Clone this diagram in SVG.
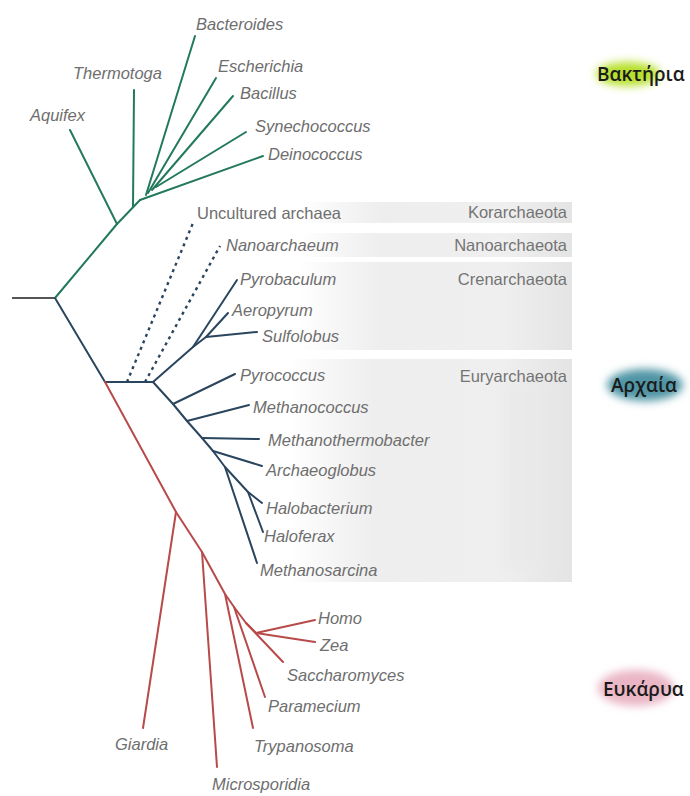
<svg xmlns="http://www.w3.org/2000/svg" width="690" height="796" viewBox="0 0 690 796">
<defs>
<linearGradient id="gbox" x1="0" y1="0" x2="1" y2="0">
<stop offset="0" stop-color="#e8e8e8" stop-opacity="0"/>
<stop offset="0.3" stop-color="#ececec" stop-opacity="0.9"/>
<stop offset="0.75" stop-color="#efefef"/>
<stop offset="1" stop-color="#e4e4e4"/>
</linearGradient>
<filter id="blur" x="-50%" y="-50%" width="200%" height="200%"><feGaussianBlur stdDeviation="4"/></filter>
<style>
.bac{stroke:#23795c;stroke-width:2;fill:none;stroke-linecap:round;stroke-linejoin:round}
.arc{stroke:#2a455e;stroke-width:2;fill:none;stroke-linecap:round;stroke-linejoin:round}
.euk{stroke:#b84a4a;stroke-width:2;fill:none;stroke-linecap:round;stroke-linejoin:round}
.dash{stroke-dasharray:3 4;stroke-width:2.4;stroke-linecap:butt}
.root{stroke:#555;stroke-width:2.2;fill:none}
.t{font-family:"Liberation Sans",Arial,sans-serif;font-size:16.5px;fill:#6e6e6e;font-style:italic}
.n{font-family:"Liberation Sans",Arial,sans-serif;font-size:16.5px;fill:#6e6e6e}
.ph{font-family:"Liberation Sans",Arial,sans-serif;font-size:16.5px;fill:#747474;text-anchor:end}
.dom{font-family:"Open Sans","Noto Sans",sans-serif;font-size:19px;font-weight:600;fill:#1b1b1b}
</style>
</defs>
<rect width="690" height="796" fill="#ffffff"/>

<g id="phyla-boxes">
<rect x="300" y="202" width="272" height="21" fill="url(#gbox)"/>
<rect x="300" y="233" width="272" height="24" fill="url(#gbox)"/>
<rect x="300" y="262" width="272" height="88" fill="url(#gbox)"/>
<rect x="290" y="359" width="282" height="223" fill="url(#gbox)"/>
<rect x="500" y="380" width="45" height="190" fill="#e9e9e9" opacity="0.5" filter="url(#blur)"/>
</g>

<g id="connectors">
<path class="root" d="M12,298 H55"/>
<path class="bac" d="M55,298 L117,224 L140,200"/>
<path class="bac" d="M117,224 L70,130"/>
<path class="bac" d="M133,207 L134,90"/>
<path class="bac" d="M146,195 L195,36"/>
<path class="bac" d="M148,193 L216,78"/>
<path class="bac" d="M152,190 L233,96"/>
<path class="bac" d="M156,187 L246,132"/>
<path class="bac" d="M140,200 L263,156"/>

<path class="arc" d="M55,298 L105,382 H153"/>
<path class="arc dash" d="M127,382 L193,223"/>
<path class="arc dash" d="M145,382 L220,246"/>
<path class="arc" d="M153,382 L193,347 L237,280"/>
<path class="arc" d="M193,347 L206,337 L228,313"/>
<path class="arc" d="M206,337 L257,332"/>
<path class="arc" d="M153,382 L173,404 L187,421 L202,438 L213,451 L225,467 L257,563"/>
<path class="arc" d="M173,404 L235,374"/>
<path class="arc" d="M187,421 L249,405"/>
<path class="arc" d="M202,438 L259,439"/>
<path class="arc" d="M213,451 L262,466"/>
<path class="arc" d="M225,467 L248,492 L262,503"/>
<path class="arc" d="M248,492 L263,532"/>

<path class="euk" d="M105,382 L176,512 L202,552 L225,594 L234,607 L246,623 L256,633"/>
<path class="euk" d="M176,512 L143,728"/>
<path class="euk" d="M202,552 L217,767"/>
<path class="euk" d="M225,594 L253,728"/>
<path class="euk" d="M234,607 L265,697"/>
<path class="euk" d="M246,623 L283,662"/>
<path class="euk" d="M256,633 L315,620"/>
<path class="euk" d="M256,633 L315,642"/>
</g>

<g id="bacteria-labels">
<text id="Bacteroides" class="t" x="196" y="30">Bacteroides</text>
<text id="Thermotoga" class="t" x="73" y="79">Thermotoga</text>
<text id="Aquifex" class="t" x="30" y="121">Aquifex</text>
<text id="Escherichia" class="t" x="218" y="72">Escherichia</text>
<text id="Bacillus" class="t" x="240" y="99">Bacillus</text>
<text id="Synechococcus" class="t" x="255" y="132">Synechococcus</text>
<text id="Deinococcus" class="t" x="268" y="160">Deinococcus</text>
</g>

<g id="archaea-labels">
<text id="Uncultured" class="n" x="197" y="219">Uncultured archaea</text>
<text id="Nanoarchaeum" class="t" x="226" y="251">Nanoarchaeum</text>
<text id="Pyrobaculum" class="t" x="240" y="285">Pyrobaculum</text>
<text id="Aeropyrum" class="t" x="232" y="316">Aeropyrum</text>
<text id="Sulfolobus" class="t" x="262" y="342">Sulfolobus</text>
<text id="Pyrococcus" class="t" x="240" y="381">Pyrococcus</text>
<text id="Methanococcus" class="t" x="253" y="413">Methanococcus</text>
<text id="Methanothermobacter" class="t" x="268" y="446">Methanothermobacter</text>
<text id="Archaeoglobus" class="t" x="266" y="476">Archaeoglobus</text>
<text id="Halobacterium" class="t" x="266" y="514">Halobacterium</text>
<text id="Haloferax" class="t" x="264" y="542">Haloferax</text>
<text id="Methanosarcina" class="t" x="260" y="576">Methanosarcina</text>
</g>

<g id="phyla-labels">
<text class="ph" x="567" y="218">Korarchaeota</text>
<text class="ph" x="567" y="251">Nanoarchaeota</text>
<text class="ph" x="567" y="285">Crenarchaeota</text>
<text class="ph" x="567" y="382">Euryarchaeota</text>
</g>

<g id="eukarya-labels">
<text id="Homo" class="t" x="318" y="624">Homo</text>
<text id="Zea" class="t" x="320" y="651">Zea</text>
<text id="Saccharomyces" class="t" x="287" y="681">Saccharomyces</text>
<text id="Paramecium" class="t" x="268" y="712">Paramecium</text>
<text id="Trypanosoma" class="t" x="254" y="752">Trypanosoma</text>
<text id="Giardia" class="t" x="115" y="750">Giardia</text>
<text id="Microsporidia" class="t" x="212" y="790">Microsporidia</text>
</g>

<g id="domain-bacteria">
<ellipse cx="628" cy="74" rx="32" ry="12" fill="#b6e02a" filter="url(#blur)"/>
<text class="dom" x="597" y="81">Βακτήρια</text>
</g>
<g id="domain-archaea">
<ellipse cx="645" cy="385" rx="38" ry="16" fill="#4f95a5" filter="url(#blur)"/>
<text class="dom" x="611" y="392">Αρχαία</text>
</g>
<g id="domain-eukarya">
<ellipse cx="636" cy="688" rx="38" ry="18" fill="#eab6c6" filter="url(#blur)"/>
<text class="dom" x="603" y="696">Ευκάρυα</text>
</g>
</svg>
